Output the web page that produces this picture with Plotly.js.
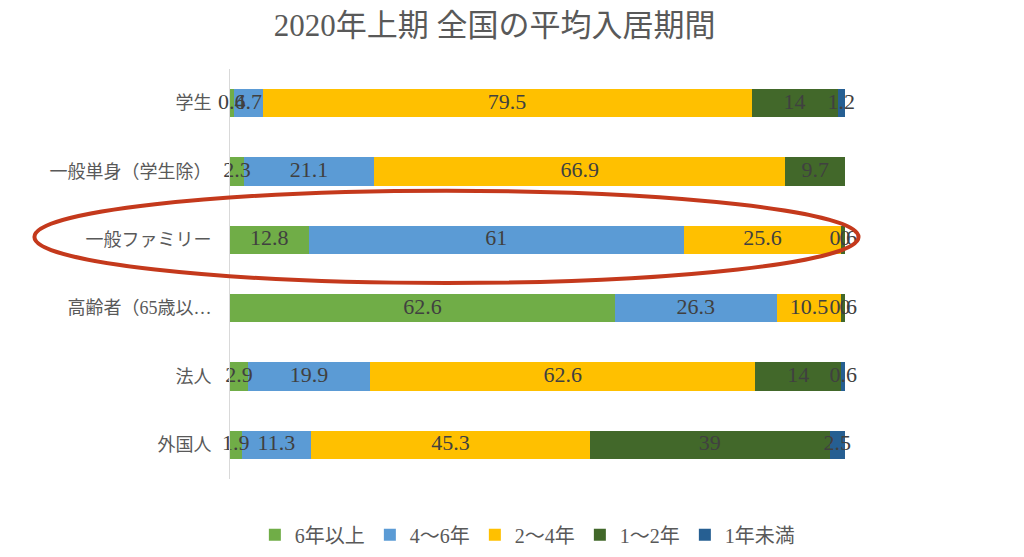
<!DOCTYPE html>
<html>
<head>
<meta charset="utf-8">
<script src="https://cdn.plot.ly/plotly-3.0.1.min.js"></script>
<style>html,body{margin:0;padding:0;background:#fff;}#chart{width:1024px;height:557px;}</style>
</head>
<body>
<div id="chart"></div>
<script>
// 入居者区分（上から順）
const categories = ['学生', '一般単身（学生除）', '一般ファミリー', '高齢者（65歳以…', '法人', '外国人'];

// 入居期間ごとの割合（%）
const seriesNames = ['6年以上', '4～6年', '2～4年', '1～2年', '1年未満'];
const over6 = [0.6, 2.3, 12.8, 62.6, 2.9, 1.9];
const y4to6 = [4.7, 21.1, 61, 26.3, 19.9, 11.3];
const y2to4 = [79.5, 66.9, 25.6, 10.5, 62.6, 45.3];
const y1to2 = [14, 9.7, 0.6, 0.6, 14, 39];
const under1 = [1.2, 0, 0, 0, 0.6, 2.5];

const seriesValues = [over6, y4to6, y2to4, y1to2, under1];
const colors = ['#70AD47', '#5B9BD5', '#FFC000', '#42682A', '#265F92'];

const serif = '"Liberation Serif", "Noto Sans CJK JP", serif';

// 積み上げ棒
const barTraces = seriesValues.map((vals, i) => ({
  type: 'bar',
  orientation: 'h',
  name: seriesNames[i],
  y: categories,
  x: vals,
  marker: { color: colors[i], line: { width: 0 } },
  hoverinfo: 'name+x'
}));

// データラベル：各区間の中央（0 の区間は累積位置）に値を表示
const labelX = [], labelY = [], labelText = [];
categories.forEach((cat, c) => {
  let start = 0;
  seriesValues.forEach(vals => {
    const v = vals[c];
    labelX.push(start + v / 2);
    labelY.push(cat);
    labelText.push(String(v));
    start += v;
  });
});

const labelTrace = {
  type: 'scatter',
  mode: 'text',
  x: labelX,
  y: labelY,
  text: labelText,
  textposition: 'middle center',
  textfont: { family: serif, size: 22, color: '#404040' },
  cliponaxis: false,
  showlegend: false,
  hoverinfo: 'skip'
};

const layout = {
  width: 1024,
  height: 557,
  margin: { l: 230, r: 179, t: 69, b: 78, autoexpand: false },
  paper_bgcolor: '#ffffff',
  plot_bgcolor: '#ffffff',
  barmode: 'stack',
  bargap: 0.59,
  title: {
    text: '2020年上期 全国の平均入居期間',
    font: { family: serif, size: 31, color: '#595959' },
    x: 0.483,
    xanchor: 'center',
    y: 0.955,
    yanchor: 'middle'
  },
  xaxis: {
    range: [0, 100],
    visible: false,
    fixedrange: true
  },
  yaxis: {
    autorange: 'reversed',
    showgrid: false,
    zeroline: false,
    showline: true,
    linecolor: '#D9D9D9',
    linewidth: 1,
    ticks: '',
    ticklabelstandoff: 14,
    tickfont: { family: serif, size: 18, color: '#595959' }
  },
  showlegend: true,
  legend: {
    orientation: 'h',
    x: 0.515,
    xref: 'container',
    xanchor: 'center',
    y: 0.04,
    yref: 'container',
    yanchor: 'middle',
    font: { family: serif, size: 20, color: '#595959' },
    traceorder: 'normal',
    itemwidth: 30
  },
  shapes: [{
    type: 'circle',
    xref: 'paper',
    yref: 'paper',
    x0: -0.318,
    x1: 1.022,
    y0: 0.478,
    y1: 0.703,
    line: { color: '#C4391C', width: 4 },
    fillcolor: 'rgba(0,0,0,0)'
  }]
};

Plotly.newPlot('chart', barTraces.concat([labelTrace]), layout, { displayModeBar: false, staticPlot: true });
</script>
</body>
</html>
